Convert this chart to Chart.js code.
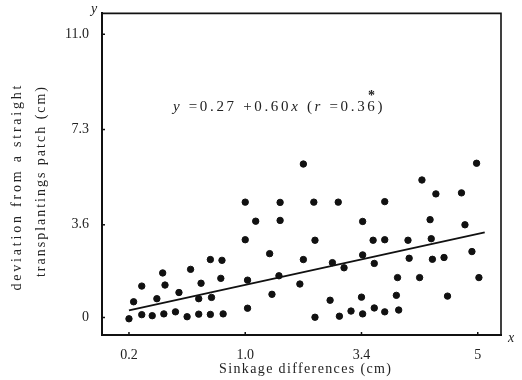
<!DOCTYPE html>
<html>
<head>
<meta charset="utf-8">
<script src="https://cdn.jsdelivr.net/npm/chart.js@4.4.1/dist/chart.umd.min.js"></script>
<style>
  body { margin: 0; background: #fff; }
  canvas { display: block; }
</style>
</head>
<body>
<canvas id="chart" width="522" height="380"></canvas>
<script>
// x is the tick slot (0 -> "0.2", 1 -> "1.0", 2 -> "3.4", 3 -> "5"), y in cm
var xTickLabels = ['0.2', '1.0', '3.4', '5']
var xTickSlots = [0, 1, 2, 3]
var yTickValues = [0, 3.6, 7.3, 11.0]
var yTickLabels = ['0', '3.6', '7.3', '11.0']

var pointX = [
    0.00, 0.11, 0.20, 0.30, 0.40, 0.50, 0.60, 0.70, 0.04, 0.24, 0.43, 0.60, 0.71, 0.11, 0.31, 0.62, 0.29, 0.53,
    0.70, 0.79, 0.80, 0.81, 1.00, 1.00, 1.02, 1.02, 1.09, 1.50, 1.30, 1.59, 1.30, 1.60, 1.21, 1.50, 1.29, 1.47,
    1.23, 1.60, 1.80, 2.20, 2.01, 2.10, 2.20, 2.40, 1.75, 1.85, 2.01, 2.11, 2.41, 2.31, 1.73, 2.00, 2.30, 1.81,
    1.91, 2.01, 2.11, 2.20, 2.32, 2.99, 2.52, 2.64, 2.86, 2.59, 2.89, 2.60, 2.61, 2.71, 2.95, 2.50, 3.01, 2.74
]
var pointY = [
    -0.05, 0.11, 0.07, 0.14, 0.22, 0.03, 0.13, 0.12, 0.61, 0.73, 0.97, 0.73, 0.78, 1.22, 1.26, 1.33, 1.73, 1.87,
    2.25, 1.52, 2.22, 0.14, 4.48, 3.02, 0.36, 1.45, 3.74, 5.96, 4.47, 4.48, 3.77, 3.00, 2.48, 2.25, 1.62, 1.30,
    0.90, 0.01, 4.48, 4.50, 3.73, 3.00, 3.02, 3.00, 2.13, 1.93, 2.43, 2.10, 2.30, 1.55, 0.67, 0.79, 0.86, 0.05,
    0.25, 0.14, 0.37, 0.22, 0.29, 5.99, 5.34, 4.80, 4.84, 3.80, 3.60, 3.06, 2.26, 2.33, 2.56, 1.55, 1.55, 0.83
]

// fitted line as drawn on the original
var lineX = [0, 3.06]
var lineY = [0.28, 3.31]

var serif = '"Liberation Serif", "DejaVu Serif", serif'

var points = pointX.map(function (x, i) { return {x: x, y: pointY[i]} })
var line = lineX.map(function (x, i) { return {x: x, y: lineY[i]} })

function fitText(ctx, text, cx, cy, width) {
    ctx.letterSpacing = '0px'
    var w = ctx.measureText(text).width
    var sp = (width - w) / Math.max(text.length - 1, 1)
    ctx.letterSpacing = sp.toFixed(2) + 'px'
    ctx.textAlign = 'center'
    ctx.fillText(text, cx + sp / 2, cy)
    ctx.letterSpacing = '0px'
}

var decorations = {
    id: 'decorations',
    afterDraw: function (chart) {
        var ctx = chart.ctx
        var a = chart.chartArea
        ctx.save()
        ctx.strokeStyle = '#111'
        ctx.lineWidth = 1.6
        ctx.beginPath()
        ctx.moveTo(a.left, a.top)
        ctx.lineTo(a.right, a.top)
        ctx.lineTo(a.right, a.bottom)
        ctx.stroke()

        // small inward tick marks
        ctx.lineWidth = 1.5
        var xs = chart.scales.x, ys = chart.scales.y
        xTickSlots.forEach(function (v) {
            var px = xs.getPixelForValue(v)
            ctx.beginPath(); ctx.moveTo(px, a.bottom); ctx.lineTo(px, a.bottom - 3); ctx.stroke()
        })
        yTickValues.forEach(function (v) {
            var py = ys.getPixelForValue(v)
            ctx.beginPath(); ctx.moveTo(a.left, py); ctx.lineTo(a.left + 3, py); ctx.stroke()
        })

        ctx.fillStyle = '#222'
        ctx.textBaseline = 'middle'
        ctx.font = 'italic 14px ' + serif
        ctx.textAlign = 'center'
        ctx.fillText('y', a.left - 8, a.top - 4)
        ctx.fillText('x', a.right + 10, a.bottom + 3)

        // regression equation, spread to the width it has on the original
        var parts = [['y', true], [' =0.27 +0.60', false], ['x', true], [' (', false], ['r', true], [' =0.36)', false]]
        var natural = 0, chars = 0
        ctx.letterSpacing = '0px'
        parts.forEach(function (p) {
            ctx.font = (p[1] ? 'italic ' : '') + '15px ' + serif
            natural += ctx.measureText(p[0]).width
            chars += p[0].length
        })
        var sp = (212 - natural) / chars
        var x = 173
        ctx.textAlign = 'left'
        ctx.letterSpacing = sp.toFixed(2) + 'px'
        parts.forEach(function (p) {
            ctx.font = (p[1] ? 'italic ' : '') + '15px ' + serif
            ctx.fillText(p[0], x, 107)
            x += ctx.measureText(p[0]).width
        })
        ctx.letterSpacing = '0px'
        ctx.font = 'bold 14px ' + serif
        ctx.fillText('*', 368, 96)

        // axis titles
        ctx.font = '14px ' + serif
        fitText(ctx, 'Sinkage differences (cm)', 305, 369, 172)
        ctx.save()
        ctx.translate(17, 188)
        ctx.rotate(-Math.PI / 2)
        fitText(ctx, 'deviation from a straight', 0, 0, 205)
        ctx.restore()
        ctx.save()
        ctx.translate(41, 182)
        ctx.rotate(-Math.PI / 2)
        fitText(ctx, 'transplantings patch (cm)', 0, 0, 190)
        ctx.restore()
        ctx.restore()
    }
}

var chart = new Chart(document.getElementById('chart').getContext('2d'), {
    type: 'scatter',
    data: {
        datasets: [
            {
                data: points,
                backgroundColor: '#111',
                borderColor: '#111',
                pointRadius: 3.2,
                pointHoverRadius: 3.2
            },
            {
                type: 'line',
                data: line,
                borderColor: '#111',
                borderWidth: 1.8,
                pointRadius: 0,
                fill: false
            }
        ]
    },
    options: {
        responsive: false,
        animation: false,
        layout: {padding: {top: 12, right: 21, left: 0, bottom: 0}},
        plugins: {legend: {display: false}, tooltip: {enabled: false}},
        scales: {
            x: {
                type: 'linear',
                min: -0.232,
                max: 3.2,
                afterFit: function (s) { s.height = 45 },
                afterBuildTicks: function (s) { s.ticks = xTickSlots.map(function (v) { return {value: v} }) },
                grid: {display: false},
                border: {display: true, color: '#111', width: 2},
                ticks: {
                    color: '#222',
                    padding: 4,
                    maxRotation: 0,
                    font: {family: serif, size: 14},
                    callback: function (v) { return xTickLabels[xTickSlots.indexOf(v)] }
                }
            },
            y: {
                min: -0.68,
                max: 11.81,
                afterFit: function (s) { s.width = 102 },
                afterBuildTicks: function (s) { s.ticks = yTickValues.map(function (v) { return {value: v} }) },
                grid: {display: false},
                border: {display: true, color: '#111', width: 2},
                ticks: {
                    color: '#222',
                    padding: 5,
                    font: {family: serif, size: 14},
                    callback: function (v) { return yTickLabels[yTickValues.indexOf(v)] }
                }
            }
        }
    },
    plugins: [decorations]
})
</script>
</body>
</html>
